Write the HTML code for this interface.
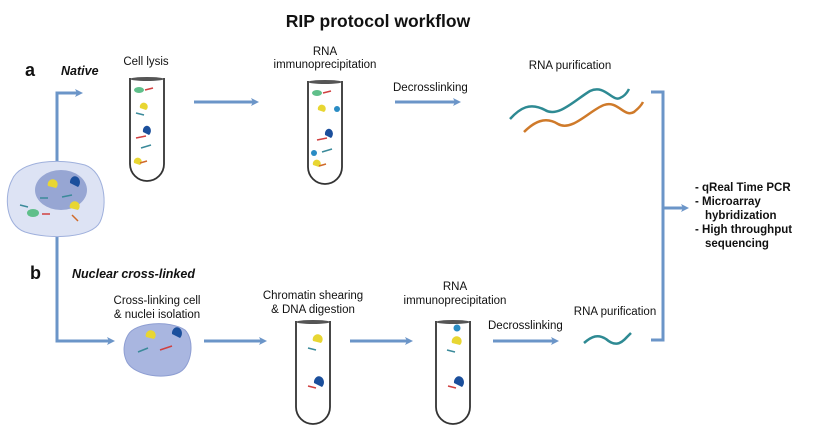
<!DOCTYPE html>
<html><head><meta charset="utf-8"><style>
html,body{margin:0;padding:0;background:#fff;}
svg{display:block;}
text{font-family:"Liberation Sans",Arial,sans-serif;fill:#111;}
</style></head><body>
<svg width="819" height="427" viewBox="0 0 819 427" xmlns="http://www.w3.org/2000/svg">
<defs>
<marker id="ah" markerWidth="8" markerHeight="8" refX="5" refY="4" orient="auto" markerUnits="userSpaceOnUse">
<path d="M0,0 L8,4 L0,8 L2,4 Z" fill="#6b95c8"/>
</marker>
<g id="tube">
<path d="M0,0 L0,86 A17,17 0 0 0 34,86 L34,0" fill="#fff" stroke="#333" stroke-width="1.8"/>
<ellipse cx="17" cy="1" rx="17" ry="2" fill="#555"/>
</g>
</defs>
<text x="378" y="27" font-size="17.5" font-weight="bold" text-anchor="middle">RIP protocol workflow</text>

<!-- a -->
<text x="25" y="76" font-size="18" font-weight="bold">a</text>
<text x="61" y="75" font-size="12.5" font-weight="bold" font-style="italic">Native</text>
<g stroke="#6b95c8" stroke-width="3" fill="none">
<path d="M57,165 L57,93 L80,93" marker-end="url(#ah)"/>
<path d="M57,235 L57,341 L112,341" marker-end="url(#ah)"/>
<path d="M194,102 L256,102" marker-end="url(#ah)"/>
<path d="M395,102 L458,102" marker-end="url(#ah)"/>
<path d="M651,92 L663,92 L663,340 L651,340"/>
<path d="M663,208 L686,208" marker-end="url(#ah)"/>
<path d="M204,341 L264,341" marker-end="url(#ah)"/>
<path d="M350,341 L410,341" marker-end="url(#ah)"/>
<path d="M493,341 L556,341" marker-end="url(#ah)"/>
</g>

<!-- cell a -->
<path d="M12,180 C20,160 60,158 85,165 C105,172 108,205 100,222 C92,238 50,240 25,232 C5,225 4,195 12,180 Z" fill="#dde3f4" stroke="#9fb0dc" stroke-width="1"/>
<ellipse cx="61" cy="190" rx="26" ry="20" fill="#97a6d3"/>
<path d="M48,186 a5,5 0 1 1 8,2 z" fill="#e8d632"/>
<path d="M70,183 a5,6 0 1 1 8,4 z" fill="#1b4f9c"/>
<path d="M20,205 l8,2 M40,198 l8,0 M62,197 l10,-2" stroke="#3b8a9a" stroke-width="1.5"/>
<ellipse cx="33" cy="213" rx="6" ry="4" fill="#5fbf8a"/>
<path d="M42,214 l8,0" stroke="#d04040" stroke-width="1.5"/>
<path d="M70,208 a5,5 0 1 1 8,2 z" fill="#e8d632"/>
<path d="M72,215 l6,6" stroke="#d06a2a" stroke-width="1.5"/>

<!-- tube 1 -->
<use href="#tube" x="130" y="78"/>
<text x="146" y="65" font-size="11.5" text-anchor="middle">Cell lysis</text>
<ellipse cx="139" cy="90" rx="5" ry="3" fill="#5fbf8a"/><path d="M145,90 l8,-2" stroke="#d04040" stroke-width="1.5"/>
<path d="M140,108 a4,4 0 1 1 6,2 z" fill="#e8d632"/><path d="M136,113 l8,2" stroke="#3b8a9a" stroke-width="1.5"/>
<path d="M143,132 a4,5 0 1 1 6,3 z" fill="#1b4f9c"/><path d="M136,138 l10,-2" stroke="#d04040" stroke-width="1.5"/>
<path d="M141,148 l10,-3" stroke="#3b8a9a" stroke-width="1.5"/>
<path d="M134,163 a4,4 0 1 1 6,2 z" fill="#e8d632"/><path d="M140,163 l7,-2" stroke="#d06a2a" stroke-width="1.5"/>

<!-- tube 2 -->
<use href="#tube" x="308" y="81"/>
<text x="325" y="55" font-size="11.5" text-anchor="middle">RNA</text>
<text x="325" y="68" font-size="11.5" text-anchor="middle">immunoprecipitation</text>
<ellipse cx="317" cy="93" rx="5" ry="3" fill="#5fbf8a"/><path d="M323,93 l8,-2" stroke="#d04040" stroke-width="1.5"/>
<path d="M318,110 a4,4 0 1 1 6,2 z" fill="#e8d632"/><circle cx="337" cy="109" r="3" fill="#2a8cc4"/>
<path d="M325,135 a4,5 0 1 1 6,3 z" fill="#1b4f9c"/><path d="M317,140 l10,-2" stroke="#d04040" stroke-width="1.5"/>
<circle cx="314" cy="153" r="3" fill="#2a8cc4"/><path d="M322,152 l10,-3" stroke="#3b8a9a" stroke-width="1.5"/>
<path d="M313,165 a4,4 0 1 1 6,2 z" fill="#e8d632"/><path d="M319,166 l7,-2" stroke="#d06a2a" stroke-width="1.5"/>

<text x="393" y="91" font-size="11.5">Decrosslinking</text>
<text x="570" y="69" font-size="11.5" text-anchor="middle">RNA purification</text>
<path d="M510,119 C520,108 530,102 545,110 C558,118 575,100 590,91 C605,84 612,102 620,98 C625,96 628,91 629,89" fill="none" stroke="#2e8a93" stroke-width="2.5"/>
<path d="M524,132 C534,122 545,116 558,124 C572,132 590,110 604,105 C618,100 624,118 634,112 C639,108 642,104 643,102" fill="none" stroke="#cf7a2a" stroke-width="2.5"/>

<g font-size="11.5" font-weight="bold">
<text x="695" y="191">-  qReal Time PCR</text>
<text x="695" y="205">-  Microarray</text>
<text x="705" y="219">hybridization</text>
<text x="695" y="233">-  High throughput</text>
<text x="705" y="247">sequencing</text>
</g>

<!-- b -->
<text x="30" y="279" font-size="18" font-weight="bold">b</text>
<text x="72" y="278" font-size="12.5" font-weight="bold" font-style="italic">Nuclear cross-linked</text>
<text x="157" y="304" font-size="11.5" text-anchor="middle">Cross-linking cell</text>
<text x="157" y="318" font-size="11.5" text-anchor="middle">&amp; nuclei isolation</text>
<path d="M128,335 C135,322 170,320 185,330 C195,340 192,365 180,372 C165,380 135,376 127,362 C122,352 124,342 128,335 Z" fill="#a9b6e0" stroke="#8e9ed2" stroke-width="1"/>
<path d="M146,337 a5,5 0 1 1 8,2 z" fill="#e8d632"/><path d="M138,352 l10,-4" stroke="#3b8a9a" stroke-width="1.5"/>
<path d="M172,334 a5,6 0 1 1 8,4 z" fill="#1b4f9c"/><path d="M160,350 l12,-4" stroke="#d04040" stroke-width="1.5"/>

<text x="313" y="299" font-size="11.5" text-anchor="middle">Chromatin shearing</text>
<text x="313" y="313" font-size="11.5" text-anchor="middle">&amp; DNA digestion</text>
<use href="#tube" x="296" y="321"/>
<path d="M313,341 a5,5 0 1 1 8,2 z" fill="#e8d632"/><path d="M308,348 l8,2" stroke="#3b8a9a" stroke-width="1.5"/>
<path d="M314,383 a5,6 0 1 1 8,4 z" fill="#1b4f9c"/><path d="M308,386 l8,2" stroke="#d04040" stroke-width="1.5"/>

<text x="455" y="290" font-size="11.5" text-anchor="middle">RNA</text>
<text x="455" y="304" font-size="11.5" text-anchor="middle">immunoprecipitation</text>
<use href="#tube" x="436" y="321"/>
<circle cx="457" cy="328" r="3.5" fill="#2a8cc4"/>
<path d="M452,343 a5,5 0 1 1 8,2 z" fill="#e8d632"/><path d="M447,350 l8,2" stroke="#3b8a9a" stroke-width="1.5"/>
<path d="M454,383 a5,6 0 1 1 8,4 z" fill="#1b4f9c"/><path d="M448,386 l8,2" stroke="#d04040" stroke-width="1.5"/>

<text x="488" y="329" font-size="11.5">Decrosslinking</text>
<text x="615" y="315" font-size="11.5" text-anchor="middle">RNA purification</text>
<path d="M584,343 C592,336 598,334 606,339 C614,346 620,345 627,337 L631,333" fill="none" stroke="#2e8a93" stroke-width="2.5"/>
</svg>
</body></html>
